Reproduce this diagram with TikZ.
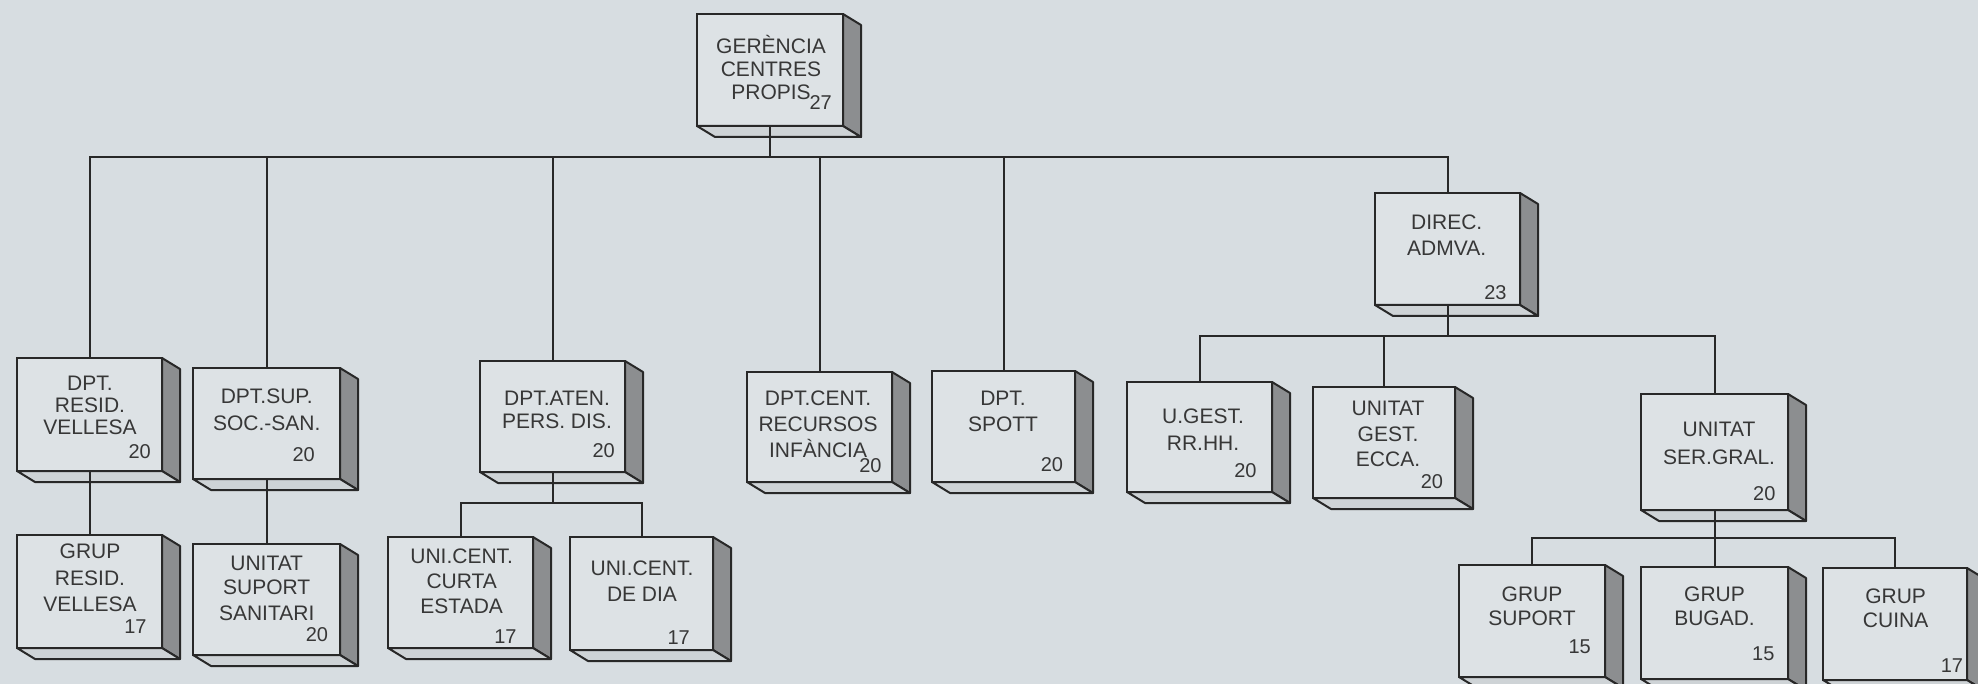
\documentclass[tikz,border=0pt]{standalone}
\usepackage{fontspec}
\setmainfont{Liberation Sans}
\usetikzlibrary{calc}
\definecolor{bgc}{RGB}{215,221,225}
\definecolor{frontc}{RGB}{221,226,229}
\definecolor{sidec}{RGB}{140,142,144}
\definecolor{botc}{RGB}{206,211,214}
\definecolor{linec}{RGB}{40,40,40}
\definecolor{txtc}{RGB}{55,55,55}
\tikzset{
  frontbox/.style={draw=linec, fill=frontc, line width=2.2pt, outer sep=0pt, inner sep=0pt, rectangle},
  sideface/.style={draw=linec, fill=sidec, line width=2pt, line join=round},
  bottomface/.style={draw=linec, fill=botc, line width=2pt, line join=round},
  conn/.style={draw=linec, line width=2pt},
  lbl/.style={text=txtc, font=\fontsize{21}{22}\selectfont, inner sep=0pt, anchor=base},
  num/.style={text=txtc, font=\fontsize{20}{22}\selectfont, inner sep=0pt, anchor=base east},
}
\newcommand{\oboxdraw}[5]{%
  \pgfmathsetmacro{\oboxw}{#4-#2}%
  \pgfmathsetmacro{\oboxh}{#5-#3}%
  \node[frontbox, minimum width=\oboxw pt, minimum height=\oboxh pt] (#1) at ({(#2+#4)/2},{-(#3+#5)/2}) {};
  \filldraw[sideface] (#1.north east) -- ++(18,-11) -- ([shift={(18,-11)}]#1.south east) -- (#1.south east) -- cycle;
  \filldraw[bottomface] (#1.south west) -- ++(18,-11) -- ([shift={(18,-11)}]#1.south east) -- (#1.south east) -- cycle;
}
\newcommand{\txtline}[4]{\node[lbl] (#1) at (#2,-#3) {#4};}
\newcommand{\numtag}[4]{\node[num] (#1) at (#2,-#3) {#4};}
\begin{document}
\begin{tikzpicture}[x=1pt,y=1pt]
\useasboundingbox (0,0) rectangle (1978,-684);
\fill[bgc] (0,0) rectangle (1978,-684);

% boxes
\oboxdraw{g}{697}{14}{843}{126}
\oboxdraw{a1}{17}{358}{162}{471}
\oboxdraw{a2}{193}{368}{340}{479}
\oboxdraw{a3}{480}{361}{625}{472}
\oboxdraw{a4}{747}{372}{892}{482}
\oboxdraw{a5}{932}{371}{1075}{482}
\oboxdraw{a6}{1375}{193}{1520}{305}
\oboxdraw{b1}{17}{535}{162}{648}
\oboxdraw{b2}{193}{544}{340}{655}
\oboxdraw{b3}{388}{537}{533}{648}
\oboxdraw{b4}{570}{537}{713}{650}
\oboxdraw{c1}{1127}{382}{1272}{492}
\oboxdraw{c2}{1313}{387}{1455}{498}
\oboxdraw{c3}{1641}{394}{1788}{510}
\oboxdraw{d1}{1459}{565}{1605}{677}
\oboxdraw{d2}{1641}{567}{1788}{679}
\oboxdraw{d3}{1823}{568}{1967}{680}

% connectors
\coordinate (bus0) at (0,-157.5);
\coordinate (bus3) at (0,-503);
\coordinate (bus6) at (0,-336.5);
\coordinate (busc) at (0,-538);
\draw[conn] (g.south) -- (g.south |- bus0);
\draw[conn] (a1.north) -- (a1.north |- bus0) -- (a6.north |- bus0) -- (a6.north);
\foreach \n in {a2,a3,a4,a5} { \draw[conn] (\n.north) -- (\n.north |- bus0); }
\draw[conn] (a1.south) -- (b1.north);
\draw[conn] (a2.south) -- (b2.north);
\draw[conn] (a3.south) -- (a3.south |- bus3);
\draw[conn] (b3.north) -- (b3.north |- bus3) -- (b4.north |- bus3) -- (b4.north);
\draw[conn] (a6.south) -- (a6.south |- bus6);
\draw[conn] (c1.north) -- (c1.north |- bus6) -- (c3.north |- bus6) -- (c3.north);
\draw[conn] (c2.north) -- (c2.north |- bus6);
\draw[conn] (c3.south) -- (c3.south |- busc);
\draw[conn] (d1.north) -- (d1.north |- busc) -- (d3.north |- busc) -- (d3.north);
\draw[conn] (d2.north) -- (d2.north |- busc);

% texts
\txtline{g-1}{771}{53.3}{GERÈNCIA}
\txtline{g-2}{771}{76.7}{CENTRES}
\txtline{g-3}{771}{99.3}{PROPIS}
\numtag{g-n}{832}{110}{27}

\txtline{a1-1}{90}{391}{DPT.}
\txtline{a1-2}{90}{412.7}{RESID.}
\txtline{a1-3}{90}{434.3}{VELLESA}
\numtag{a1-n}{151}{458.3}{20}

\txtline{a2-1}{266.7}{403.3}{DPT.SUP.}
\txtline{a2-2}{266.7}{430.7}{SOC.-SAN.}
\numtag{a2-n}{315}{461.7}{20}

\txtline{a3-1}{557}{405}{DPT.ATEN.}
\txtline{a3-2}{557}{428.3}{PERS. DIS.}
\numtag{a3-n}{615}{457.3}{20}

\txtline{a4-1}{818}{405}{DPT.CENT.}
\txtline{a4-2}{818}{431.7}{RECURSOS}
\txtline{a4-3}{818}{457.3}{INFÀNCIA}
\numtag{a4-n}{881.7}{472.7}{20}

\txtline{a5-1}{1003}{405}{DPT.}
\txtline{a5-2}{1003}{431.7}{SPOTT}
\numtag{a5-n}{1063.3}{471.7}{20}

\txtline{a6-1}{1446.7}{230}{DIREC.}
\txtline{a6-2}{1446.7}{256}{ADMVA.}
\numtag{a6-n}{1506.7}{300}{23}

\txtline{b1-1}{90}{558.3}{GRUP}
\txtline{b1-2}{90}{585}{RESID.}
\txtline{b1-3}{90}{611.7}{VELLESA}
\numtag{b1-n}{146.7}{633.3}{17}

\txtline{b2-1}{266.7}{570}{UNITAT}
\txtline{b2-2}{266.7}{594}{SUPORT}
\txtline{b2-3}{266.7}{620}{SANITARI}
\numtag{b2-n}{328.3}{641.7}{20}

\txtline{b3-1}{461.7}{563.3}{UNI.CENT.}
\txtline{b3-2}{461.7}{588.3}{CURTA}
\txtline{b3-3}{461.7}{613.3}{ESTADA}
\numtag{b3-n}{516.7}{643.3}{17}

\txtline{b4-1}{642}{575}{UNI.CENT.}
\txtline{b4-2}{642}{601.7}{DE DIA}
\numtag{b4-n}{690}{644}{17}

\txtline{c1-1}{1203}{423.3}{U.GEST.}
\txtline{c1-2}{1203}{450}{RR.HH.}
\numtag{c1-n}{1256.7}{477.3}{20}

\txtline{c2-1}{1388}{415.7}{UNITAT}
\txtline{c2-2}{1388}{441.7}{GEST.}
\txtline{c2-3}{1388}{466.7}{ECCA.}
\numtag{c2-n}{1443.3}{488.3}{20}

\txtline{c3-1}{1719}{436.6}{UNITAT}
\txtline{c3-2}{1719}{464}{SER.GRAL.}
\numtag{c3-n}{1775.6}{500}{20}

\txtline{d1-1}{1532}{601.8}{GRUP}
\txtline{d1-2}{1532}{625.8}{SUPORT}
\numtag{d1-n}{1591}{653.2}{15}

\txtline{d2-1}{1714.5}{601.8}{GRUP}
\txtline{d2-2}{1714.5}{625.8}{BUGAD.}
\numtag{d2-n}{1774.6}{660}{15}

\txtline{d3-1}{1895.6}{603.5}{GRUP}
\txtline{d3-2}{1895.6}{627.5}{CUINA}
\numtag{d3-n}{1963.3}{672}{17}
\end{tikzpicture}
\end{document}
